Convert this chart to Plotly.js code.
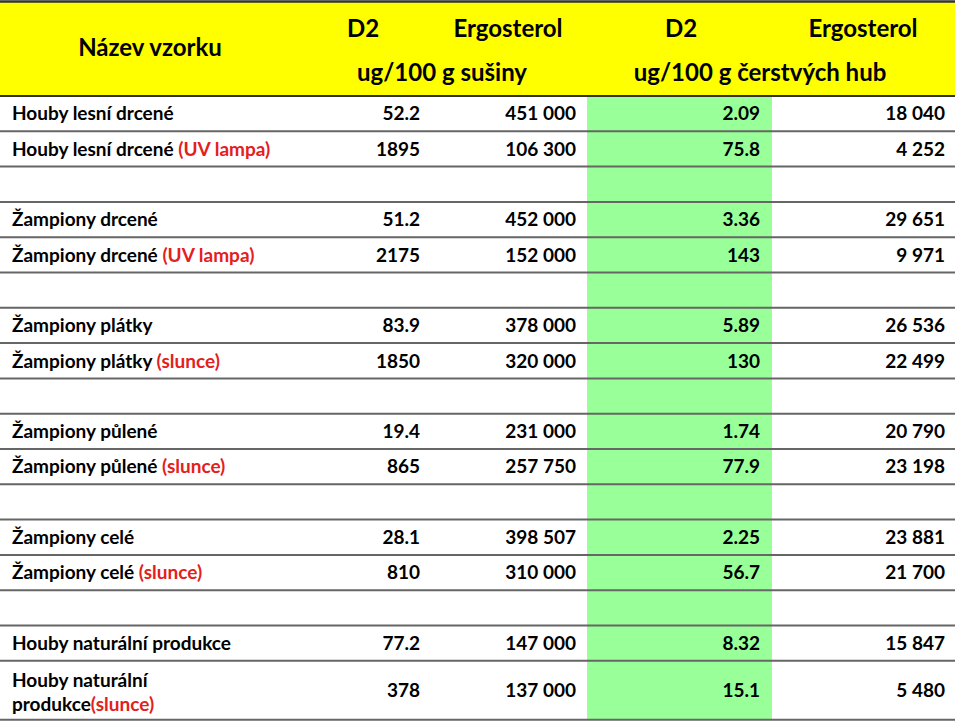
<!DOCTYPE html>
<html><head><meta charset="utf-8">
<script src="https://cdn.plot.ly/plotly-3.0.1.min.js"></script>
<style>body{margin:0;padding:0;background:#fff}#chart{width:960px;height:726px}</style>
</head><body><div id="chart"></div>
<script>
// ---- data ----
const sampleNames = ["Houby lesní drcené","Houby lesní drcené","Žampiony drcené","Žampiony drcené","Žampiony plátky","Žampiony plátky","Žampiony půlené","Žampiony půlené","Žampiony celé","Žampiony celé","Houby naturální produkce","Houby naturální<br>produkce"];
const treatments = ["","(UV lampa)","","(UV lampa)","","(slunce)","","(slunce)","","(slunce)","","(slunce)"];
const d2Dry = [52.2,1895,51.2,2175,83.9,1850,19.4,865,28.1,810,77.2,378];
const ergDry = [451000,106300,452000,152000,378000,320000,231000,257750,398507,310000,147000,137000];
const d2Fresh = [2.09,75.8,3.36,143,5.89,130,1.74,77.9,2.25,56.7,8.32,15.1];
const ergFresh = [18040,4252,29651,9971,26536,22499,20790,23198,23881,21700,15847,5480];
const headerTop = ["Název vzorku","D2","Ergosterol","D2","Ergosterol"];
const headerUnits = ["ug/100 g sušiny","ug/100 g čerstvých hub"];

// ---- layout constants ----
const W=960,H=726;
const tableTop=96, rowH=35.3, lastRowH=59, tableRight=955;
const greenL=587, greenR=772;
const colName=12, colD2Dry=420, colErgDry=576, colD2Fresh=760, colErgFresh=945;
const textShift=2;
const red="#E3201B";

function fmtThousands(v){return String(v).replace(/\B(?=(\d{3})+(?!\d))/g," ");}
const n=sampleNames.length;
function rowTop(i){const g=Math.floor(i/2),r=i%2;return tableTop+(3*g+r)*rowH;}
function rowHeight(i){return i===n-1?lastRowH:rowH;}
const yc=sampleNames.map((_,i)=>rowTop(i)+rowHeight(i)/2+textShift);
const ycName=yc.map((v,i)=>i===n-1?v+2:v);

const font={family:"Lato, 'Open Sans', sans-serif",size:19,color:"#000",weight:"bold"};
const hfont={family:"Lato, 'Open Sans', sans-serif",size:24,color:"#000",weight:"bold"};

const nameText=sampleNames.map((s,i)=>treatments[i]?(s+(i===n-1?"":" ")+"<span style='color:"+red+"'>"+treatments[i]+"</span>"):s);

const traces=[
 {x:yc.map(()=>colName),y:ycName,text:nameText,mode:"text",textposition:"middle right",textfont:font,hoverinfo:"skip",type:"scatter"},
 {x:yc.map(()=>colD2Dry),y:yc,text:d2Dry.map(String),mode:"text",textposition:"middle left",textfont:font,hoverinfo:"skip",type:"scatter"},
 {x:yc.map(()=>colErgDry),y:yc,text:ergDry.map(fmtThousands),mode:"text",textposition:"middle left",textfont:font,hoverinfo:"skip",type:"scatter"},
 {x:yc.map(()=>colD2Fresh),y:yc,text:d2Fresh.map(String),mode:"text",textposition:"middle left",textfont:font,hoverinfo:"skip",type:"scatter"},
 {x:yc.map(()=>colErgFresh),y:yc,text:ergFresh.map(fmtThousands),mode:"text",textposition:"middle left",textfont:font,hoverinfo:"skip",type:"scatter"},
 {x:[150,363,508,681,863],y:[50,31,31,31,31],text:headerTop,mode:"text",textposition:"middle center",textfont:hfont,hoverinfo:"skip",type:"scatter"},
 {x:[442,760],y:[75,75],text:headerUnits,mode:"text",textposition:"middle center",textfont:hfont,hoverinfo:"skip",type:"scatter"}
];

const shapes=[];
shapes.push({type:"rect",xref:"x",yref:"y",x0:0,x1:tableRight,y0:2,y1:tableTop,fillcolor:"#FFFF00",line:{width:0},layer:"below"});
shapes.push({type:"rect",xref:"x",yref:"y",x0:greenL,x1:greenR,y0:tableTop,y1:rowTop(n-1)+lastRowH,fillcolor:"#99FF99",line:{width:0},layer:"below"});
shapes.push({type:"line",xref:"x",yref:"y",x0:0,x1:tableRight,y0:1.5,y1:1.5,line:{color:"#333",width:2.5}});
const lineYs=new Set();
for(let i=0;i<n;i++){lineYs.add(rowTop(i).toFixed(2));lineYs.add((rowTop(i)+rowHeight(i)).toFixed(2));}
lineYs.forEach(v=>{const y=+v;shapes.push({type:"line",xref:"x",yref:"y",x0:0,x1:tableRight,y0:y,y1:y,line:{color:y===tableTop?"#333":"#666",width:2}});});

const layout={width:W,height:H,margin:{l:0,r:0,t:0,b:0},paper_bgcolor:"#fff",plot_bgcolor:"#fff",showlegend:false,
 xaxis:{range:[0,W],visible:false,fixedrange:true},
 yaxis:{range:[H,0],visible:false,fixedrange:true},
 shapes:shapes};
Plotly.newPlot("chart",traces,layout,{staticPlot:true,displayModeBar:false});
</script></body></html>
